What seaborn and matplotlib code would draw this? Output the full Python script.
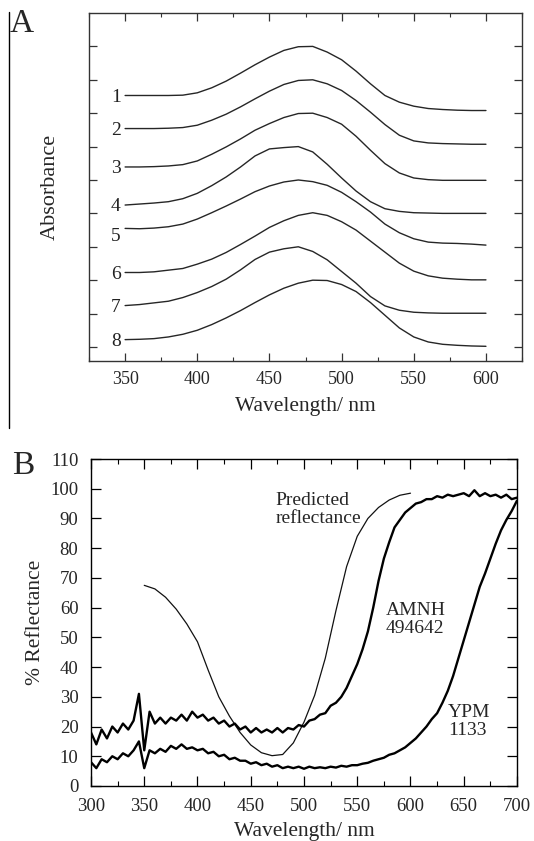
import matplotlib
matplotlib.use("Agg")
import matplotlib.pyplot as plt
import pandas as pd
import seaborn as sns
from matplotlib.lines import Line2D
from matplotlib.ticker import MultipleLocator

# ---------------- Panel A data (offset absorbance spectra) ----------------
wl_a = list(range(350, 601, 10))
curve_labels = ["1", "2", "3", "4", "5", "6", "7", "8"]
curve_1 = [7.53, 7.53, 7.53, 7.53, 7.54, 7.61, 7.76, 7.96, 8.20, 8.45, 8.68, 8.88, 8.99,
           9.00, 8.83, 8.60, 8.26, 7.88, 7.53, 7.33, 7.21, 7.14, 7.11, 7.09, 7.08, 7.08]
curve_2 = [6.54, 6.54, 6.54, 6.55, 6.57, 6.64, 6.79, 6.97, 7.19, 7.43, 7.66, 7.86, 7.98,
           8.00, 7.88, 7.68, 7.38, 7.03, 6.66, 6.34, 6.17, 6.11, 6.09, 6.08, 6.07, 6.07]
curve_3 = [5.39, 5.39, 5.40, 5.42, 5.46, 5.57, 5.77, 5.99, 6.23, 6.49, 6.69, 6.87, 6.99,
           7.00, 6.87, 6.67, 6.31, 5.89, 5.49, 5.21, 5.06, 5.01, 4.99, 4.99, 4.99, 4.99]
curve_4 = [4.25, 4.28, 4.31, 4.35, 4.44, 4.60, 4.83, 5.09, 5.39, 5.72, 5.93, 5.97, 6.00,
           5.84, 5.47, 5.06, 4.67, 4.35, 4.14, 4.06, 4.02, 4.01, 4.00, 4.00, 4.00, 4.00]
curve_5 = [3.55, 3.54, 3.56, 3.60, 3.68, 3.83, 4.02, 4.22, 4.43, 4.65, 4.82, 4.94, 5.00,
           4.95, 4.84, 4.63, 4.35, 4.04, 3.68, 3.42, 3.24, 3.14, 3.11, 3.10, 3.08, 3.05]
curve_6 = [2.23, 2.23, 2.25, 2.30, 2.35, 2.48, 2.63, 2.83, 3.07, 3.32, 3.58, 3.78, 3.94,
           4.02, 3.94, 3.75, 3.50, 3.17, 2.84, 2.51, 2.27, 2.13, 2.06, 2.03, 2.01, 2.01]
curve_7 = [1.24, 1.27, 1.32, 1.37, 1.48, 1.63, 1.81, 2.03, 2.31, 2.62, 2.84, 2.94, 3.00,
           2.86, 2.61, 2.26, 1.91, 1.51, 1.23, 1.10, 1.04, 1.02, 1.01, 1.01, 1.01, 1.01]
curve_8 = [0.22, 0.23, 0.25, 0.30, 0.38, 0.50, 0.67, 0.87, 1.09, 1.33, 1.56, 1.76, 1.91,
           2.00, 1.99, 1.87, 1.66, 1.33, 0.95, 0.57, 0.30, 0.15, 0.08, 0.05, 0.03, 0.02]
curves_a = [curve_1, curve_2, curve_3, curve_4, curve_5, curve_6, curve_7, curve_8]

# ---------------- Panel B data (% reflectance) ----------------
wl_pred = list(range(350, 601, 10))
predicted = [67.5, 66.3, 63.5, 59.5, 54.5, 48.5, 39.0, 30.0, 23.5, 18.0, 13.8, 11.2, 10.2,
             10.6, 14.5, 21.5, 30.5, 43.0, 59.0, 73.8, 84.0, 90.0, 93.7, 96.2, 97.8, 98.5]

wl_b = list(range(300, 701, 5))
amnh = [18, 14, 19, 16, 20, 18, 21, 19, 22, 31, 12, 25, 21, 23, 21, 23, 22, 24, 22, 25,
        23, 24, 22, 23, 21, 22, 20, 21, 19, 20, 18, 19.5, 18, 19, 18, 19.5, 18, 19.5, 19, 20.5,
        20, 22, 22.5, 24, 24.5, 27, 28, 30, 33, 37, 41, 46, 52, 60, 69, 76.5, 82, 87, 89.5, 92,
        93.5, 95, 95.5, 96.5, 96.5, 97.5, 97, 98, 97.5, 98, 98.5, 97.5, 99.5, 97.5, 98.5, 97.5,
        98, 97, 98, 96.5, 97]
ypm = [8, 6, 9, 8, 10, 9, 11, 10, 12, 15, 6, 12, 11, 12.5, 11.5, 13.5, 12.5, 14, 12.5, 13,
       12, 12.5, 11, 11.5, 10, 10.5, 9, 9.5, 8.5, 8.5, 7.5, 8, 7, 7.5, 6.5, 7, 6, 6.5, 6, 6.5,
       5.8, 6.5, 6, 6.3, 6, 6.5, 6.2, 6.8, 6.5, 7, 7, 7.5, 7.8, 8.5, 9, 9.5, 10.5, 11, 12, 13,
       14.5, 16, 18, 20, 22.5, 24.5, 28, 32, 37, 43, 49, 55, 61, 67, 71.5, 76.5, 81.5, 86, 89.5,
       92.5, 96]

label_pred = "Predicted\nreflectance"
label_amnh = "AMNH\n494642"
label_ypm = "YPM\n1133"

# ---------------- Figure ----------------
sns.set_theme(style="ticks")
plt.rcParams["font.family"] = ["Liberation Serif", "DejaVu Serif"]
plt.rcParams["axes.facecolor"] = "white"

fig = plt.figure(figsize=(5.34, 8.41), dpi=100)
axA = fig.add_axes([0.1667, 0.57075, 0.8109, 0.41379])
axB = fig.add_axes([0.17041, 0.0654, 0.79775, 0.38882])

line_col = "#262626"

# Panel A
for lab, vals in zip(curve_labels, curves_a):
    df = pd.DataFrame({"wl": wl_a, "abs": vals})
    sns.lineplot(data=df, x="wl", y="abs", ax=axA, color=line_col, lw=1.0,
                 estimator=None, sort=False)
    dy = -0.25 if lab == "5" else -0.05
    axA.text(347, vals[0] + dy, lab, ha="right", va="center", fontsize=14, color="#222222")

axA.set_xlim(325, 625)
axA.set_ylim(-0.42, 10.0)
axA.xaxis.set_major_locator(MultipleLocator(50))
axA.xaxis.set_minor_locator(MultipleLocator(25))
axA.set_yticks(range(0, 10))
axA.set_yticklabels([])
axA.tick_params(axis="both", which="major", direction="in", top=True, right=True,
                length=6, width=0.9, color="#333333", labelsize=13, pad=7)
axA.tick_params(axis="both", which="minor", direction="in", top=True, right=True,
                length=3, width=0.8, color="#333333")
axA.set_xlabel("Wavelength/ nm", fontsize=15.5, labelpad=7)
axA.set_ylabel("Absorbance", fontsize=16, labelpad=14)
for s in axA.spines.values():
    s.set_color("#333333")
    s.set_linewidth(1.0)

# Panel B
df_pred = pd.DataFrame({"wl": wl_pred, "R": predicted})
sns.lineplot(data=df_pred, x="wl", y="R", ax=axB, color="#111111", lw=0.9,
             estimator=None, sort=False)
df_b = pd.DataFrame({"wl": wl_b, "AMNH": amnh, "YPM": ypm})
sns.lineplot(data=df_b, x="wl", y="AMNH", ax=axB, color="black", lw=1.7,
             estimator=None, sort=False)
sns.lineplot(data=df_b, x="wl", y="YPM", ax=axB, color="black", lw=1.7,
             estimator=None, sort=False)

axB.text(473, 93.1, label_pred, ha="left", va="center", fontsize=14, linespacing=1.05)
axB.text(577, 56, label_amnh, ha="left", va="center", fontsize=14, linespacing=1.05)
axB.text(635, 21.7, label_ypm, ha="left", va="center", fontsize=14, linespacing=1.05)

axB.set_xlim(300, 700)
axB.set_ylim(0, 110)
axB.xaxis.set_major_locator(MultipleLocator(50))
axB.xaxis.set_minor_locator(MultipleLocator(25))
axB.yaxis.set_major_locator(MultipleLocator(10))
axB.tick_params(axis="both", which="major", direction="in", top=True, right=True,
                length=7, width=0.9, color="black", labelsize=13.5, pad=9)
axB.tick_params(axis="both", which="minor", direction="in", top=True, right=True,
                length=3.5, width=0.8, color="black")
axB.set_xlabel("Wavelength/ nm", fontsize=15.5, labelpad=5)
axB.set_ylabel("% Reflectance", fontsize=15.5, labelpad=4)
for s in axB.spines.values():
    s.set_color("black")
    s.set_linewidth(1.0)

# Panel letters and left rule of panel A
fig.text(10 / 534, 1 - 24 / 841, "A", fontsize=24, ha="left", va="center")
fig.text(12 / 534, 1 - 466 / 841, "B", fontsize=24, ha="left", va="center")
fig.add_artist(Line2D([9 / 534, 9 / 534], [1 - 12 / 841, 1 - 428 / 841],
                      color="black", lw=1.0))

fig.savefig("out.png", dpi=100, facecolor="white")
